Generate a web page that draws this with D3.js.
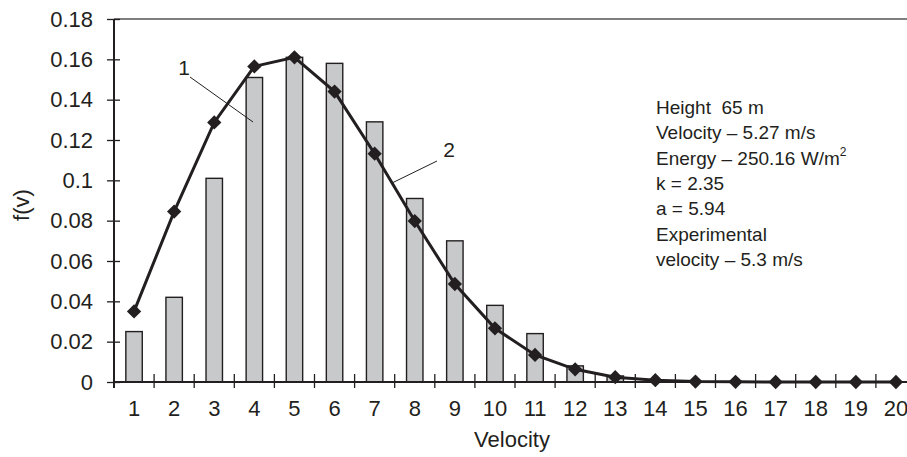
<!DOCTYPE html>
<html>
<head>
<meta charset="utf-8">
<script src="https://cdn.jsdelivr.net/npm/d3@7"></script>
<style>
  body { margin: 0; background: #fff; }
  text { font-family: "Liberation Sans", Arial, sans-serif; fill: #231f20; white-space: pre; }
</style>
</head>
<body>
<div id="chart"></div>
<script>
const velocities = d3.range(1, 21);
// observed frequency (bars, curve 1)
const observed = [0.025, 0.042, 0.101, 0.151, 0.161, 0.158, 0.129, 0.091, 0.070, 0.038,
  0.024, 0.008, 0.003, 0.0005, 0, 0, 0, 0, 0, 0];
// fitted distribution (line, curve 2)
const fitted = [0.035, 0.0845, 0.1287, 0.1565, 0.161, 0.144, 0.1132, 0.0798, 0.0486, 0.0266,
  0.0134, 0.0063, 0.0024, 0.0009, 0.0002, 0.0001, 0, 0, 0, 0];
const yTicks = [0, 0.02, 0.04, 0.06, 0.08, 0.1, 0.12, 0.14, 0.16, 0.18];
const notes = ['Height  65 m', 'Velocity – 5.27 m/s', 'Energy – 250.16 W/m', 'k = 2.35', 'a = 5.94',
  'Experimental', 'velocity – 5.3 m/s'];

const width = 907, height = 457;
const margin = { top: 19, left: 114, bottom: 75 };
const ink = '#231f20';
const font = '"Liberation Sans", Arial, sans-serif';

const svg = d3.select('#chart').append('svg')
  .attr('width', width)
  .attr('height', height);

const x = d3.scaleBand()
  .domain(velocities)
  .range([margin.left, 916]);

const y = d3.scaleLinear()
  .domain([0, 0.18])
  .range([height - margin.bottom, margin.top]);

const bw = x.bandwidth();
const barW = bw * 0.41;
const cx = v => x(v) + bw / 2;

// top frame line
svg.append('line')
  .attr('x1', margin.left).attr('x2', width)
  .attr('y1', y(0.18)).attr('y2', y(0.18))
  .attr('stroke', '#555').attr('stroke-width', 1.5);

// bars
svg.append('g')
  .selectAll('rect')
  .data(velocities.filter((v, i) => observed[i] > 0))
  .enter().append('rect')
  .attr('x', v => cx(v) - barW / 2)
  .attr('y', v => y(observed[v - 1]))
  .attr('width', barW)
  .attr('height', v => y(0) - y(observed[v - 1]))
  .attr('fill', '#c8c9cb')
  .attr('stroke', ink)
  .attr('stroke-width', 1.4);

// y axis
svg.append('g')
  .attr('transform', `translate(${margin.left},0)`)
  .call(d3.axisLeft(y).tickValues(yTicks).tickSize(7).tickPadding(14)
    .tickFormat(d => String(+d.toFixed(2))))
  .call(g => g.select('.domain').remove())
  .call(g => g.selectAll('.tick line').attr('x2', 6).attr('x1', -7).attr('stroke', ink).attr('stroke-width', 1.3))
  .call(g => g.selectAll('.tick text').attr('font-size', 22).attr('fill', ink).attr('font-family', font));

svg.append('line')
  .attr('x1', margin.left).attr('x2', margin.left)
  .attr('y1', y(0.18)).attr('y2', y(0) + 6)
  .attr('stroke', ink).attr('stroke-width', 2);

// x axis: labels at band centres, ticks at band edges
svg.append('g')
  .attr('transform', `translate(0,${y(0)})`)
  .call(d3.axisBottom(x).tickSize(0).tickPadding(18))
  .call(g => g.select('.domain').remove())
  .call(g => g.selectAll('.tick text').attr('font-size', 22).attr('fill', ink).attr('font-family', font));

svg.append('line')
  .attr('x1', margin.left).attr('x2', width)
  .attr('y1', y(0)).attr('y2', y(0))
  .attr('stroke', ink).attr('stroke-width', 2);

svg.append('g')
  .selectAll('line')
  .data(velocities)
  .enter().append('line')
  .attr('x1', v => x(v)).attr('x2', v => x(v))
  .attr('y1', y(0) - 8).attr('y2', y(0) + 6)
  .attr('stroke', ink).attr('stroke-width', 1.3);

// fitted line with diamond markers
const line = d3.line()
  .x((d, i) => cx(velocities[i]))
  .y(d => y(d));

svg.append('path')
  .datum(fitted)
  .attr('d', line)
  .attr('fill', 'none')
  .attr('stroke', ink)
  .attr('stroke-width', 3);

svg.append('g')
  .selectAll('path')
  .data(fitted)
  .enter().append('path')
  .attr('d', d3.symbol(d3.symbolDiamond2, 130))
  .attr('transform', (d, i) => `translate(${cx(velocities[i])},${y(d)})`)
  .attr('fill', ink);

// axis titles
svg.append('text')
  .attr('x', (margin.left + 916) / 2 - 3).attr('y', 447)
  .attr('text-anchor', 'middle')
  .attr('font-size', 22)
  .text('Velocity');

svg.append('text')
  .attr('transform', 'translate(29,205) rotate(-90)')
  .attr('text-anchor', 'middle')
  .attr('font-size', 22)
  .text('f(v)');

// curve callouts
svg.append('line')
  .attr('x1', 190).attr('y1', 77).attr('x2', 253).attr('y2', 122)
  .attr('stroke', ink).attr('stroke-width', 1);
svg.append('text')
  .attr('x', 184).attr('y', 75)
  .attr('text-anchor', 'middle')
  .attr('font-size', 21)
  .text('1');

svg.append('line')
  .attr('x1', 392).attr('y1', 183).attr('x2', 437).attr('y2', 161)
  .attr('stroke', ink).attr('stroke-width', 1);
svg.append('text')
  .attr('x', 449).attr('y', 157)
  .attr('text-anchor', 'middle')
  .attr('font-size', 21)
  .text('2');

// parameter notes
const noteText = svg.append('g')
  .selectAll('text')
  .data(notes)
  .enter().append('text')
  .attr('x', 656)
  .attr('y', (d, i) => 114 + i * 25.3)
  .attr('font-size', 19)
  .text(d => d);

noteText.filter((d, i) => i === 2)
  .append('tspan')
  .attr('dy', -9)
  .attr('font-size', 12)
  .text('2');
</script>
</body>
</html>
